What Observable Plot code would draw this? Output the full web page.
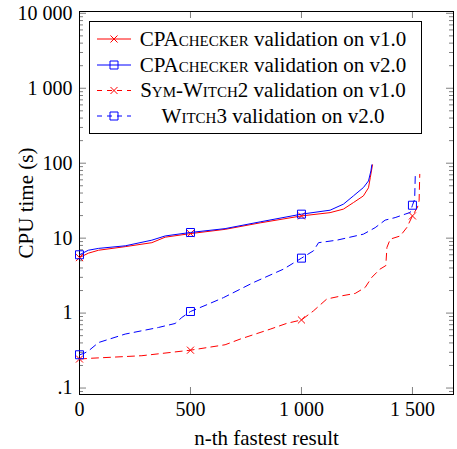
<!DOCTYPE html>
<html><head><meta charset="utf-8">
<script src="https://cdn.jsdelivr.net/npm/d3@7"></script>
<script src="https://cdn.jsdelivr.net/npm/@observablehq/plot@0.6"></script>
</head><body style="margin:0;background:#fff"><div id="chart"></div>
<script>
// ---- data ----
const cpa1X = [0, 40, 86, 206, 326, 386, 500, 656, 814, 1000, 1129, 1189, 1234, 1279, 1302, 1310, 1320];
const cpa1Y = [5.5, 6.3, 6.9, 7.7, 8.7, 10.3, 11.5, 13.1, 16.0, 19.8, 21.9, 24.4, 29.8, 36.6, 47, 64, 95];

const cpa2X = [0, 40, 86, 206, 326, 386, 500, 656, 814, 1000, 1129, 1189, 1234, 1279, 1302, 1313, 1317];
const cpa2Y = [6.0, 6.9, 7.3, 7.9, 9.4, 10.7, 11.9, 13.4, 16.5, 20.9, 23.6, 28.4, 36.6, 47.3, 58, 79, 95];

const sym2X = [0, 56, 281, 500, 656, 724, 859, 934, 1000, 1054, 1114, 1182, 1242, 1287, 1317, 1354, 1380, 1385, 1400, 1445, 1475, 1500, 1523, 1530, 1533];
const sym2Y = [0.244, 0.25, 0.27, 0.32, 0.378, 0.45, 0.61, 0.73, 0.81, 1.07, 1.54, 1.70, 1.83, 2.2, 3.0, 3.86, 4.3, 7.5, 9.7, 10.7, 13.9, 19.8, 26, 31.5, 71];

const witch3X = [0, 20, 41, 86, 206, 356, 431, 461, 500, 581, 649, 784, 919, 1000, 1054, 1077, 1160, 1279, 1332, 1377, 1422, 1467, 1490, 1500, 1510, 1513];
const witch3Y = [0.278, 0.29, 0.314, 0.405, 0.525, 0.643, 0.727, 0.874, 1.05, 1.32, 1.61, 2.56, 3.86, 5.41, 6.77, 8.7, 9.4, 11.3, 13.8, 17.4, 18.8, 20.9, 22, 27.5, 33, 73];

const xTicks = [0, 500, 1000, 1500];
const xTickLabels = ["0", "500", "1 000", "1 500"];
const yTicks = [0.1, 1, 10, 100, 1000, 10000];
const yTickLabels = [".1", "1", "10", "100", "1 000", "10 000"];
const xLabel = "n-th fastest result";
const yLabel = "CPU time (s)";
const legendTool = ["CPAchecker", "CPAchecker", "Sym-Witch2", "Witch3"];
const legendRest = [" validation on v1.0", " validation on v2.0", " validation on v1.0", " validation on v2.0"];

// ---- build ----
const rows = (xs, ys) => xs.map((x, i) => ({x, y: ys[i]}));
const cpa1 = rows(cpa1X, cpa1Y), cpa2 = rows(cpa2X, cpa2Y), sym2 = rows(sym2X, sym2Y), witch3 = rows(witch3X, witch3Y);
const markEvery = d => d.x % 500 === 0;

const W = 457, H = 449, mL = 79, mR = 4, mT = 11, mB = 55;
const pw = W - mL - mR, ph = H - mT - mB;
const yMin = 0.082, yMax = 10570;
const minorY = [];
for (let e = -2; e <= 3; e++) for (let m = 2; m <= 9; m++) {
  const v = +(m * Math.pow(10, e)).toPrecision(3);
  if (v > yMin && v < yMax) minorY.push(v);
}
const xLab = new Map(xTicks.map((t, i) => [t, xTickLabels[i]]));
const yLab = new Map(yTicks.map((t, i) => [t, yTickLabels[i]]));
const tickCol = "#808080";
const dash = "7,5";

const plot = Plot.plot({
  width: W, height: H,
  marginLeft: mL, marginRight: mR, marginTop: mT, marginBottom: mB,
  style: {fontFamily: "Liberation Serif", fontSize: "20px"},
  x: {domain: [0, 1685], label: null},
  y: {type: "log", domain: [yMin, yMax], label: null},
  marks: [
    Plot.tickY(minorY, {y: d => d, stroke: tickCol, insetRight: pw - 4}),
    Plot.tickY(minorY, {y: d => d, stroke: tickCol, insetLeft: pw - 4}),
    Plot.tickY(yTicks, {y: d => d, stroke: tickCol, insetRight: pw - 7}),
    Plot.tickY(yTicks, {y: d => d, stroke: tickCol, insetLeft: pw - 7}),
    Plot.tickX(xTicks, {x: d => d, stroke: tickCol, insetTop: ph - 7}),
    Plot.tickX(xTicks, {x: d => d, stroke: tickCol, insetBottom: ph - 7}),
    Plot.axisX(xTicks, {anchor: "bottom", tickSize: 0, tickPadding: 7, tickFormat: d => xLab.get(d), label: null}),
    Plot.axisY(yTicks, {anchor: "left", tickSize: 0, tickPadding: 7, tickFormat: d => yLab.get(d), label: null}),
    Plot.text([xLabel], {frameAnchor: "bottom", dy: 50, lineAnchor: "bottom", fontSize: 21}),
    Plot.text([yLabel], {frameAnchor: "left", dx: -53, rotate: -90, lineAnchor: "middle", textAnchor: "middle", fontSize: 21}),
    Plot.frame({stroke: "#000", strokeWidth: 1}),
    Plot.line(cpa1, {x: "x", y: "y", stroke: "#ff0000", strokeWidth: 1}),
    Plot.dot(cpa1.filter(markEvery), {x: "x", y: "y", symbol: "times", r: 3.3, stroke: "#ff0000", fill: "none", strokeWidth: 1}),
    Plot.line(cpa2, {x: "x", y: "y", stroke: "#0000ff", strokeWidth: 1}),
    Plot.dot(cpa2.filter(markEvery), {x: "x", y: "y", symbol: "square", r: 4.5, stroke: "#0000ff", fill: "none", strokeWidth: 1}),
    Plot.line(sym2, {x: "x", y: "y", stroke: "#ff0000", strokeWidth: 1, strokeDasharray: dash}),
    Plot.dot(sym2.filter(markEvery), {x: "x", y: "y", symbol: "times", r: 3.3, stroke: "#ff0000", fill: "none", strokeWidth: 1}),
    Plot.line(witch3, {x: "x", y: "y", stroke: "#0000ff", strokeWidth: 1, strokeDasharray: dash}),
    Plot.dot(witch3.filter(markEvery), {x: "x", y: "y", symbol: "square", r: 4.5, stroke: "#0000ff", fill: "none", strokeWidth: 1})
  ]
});
document.getElementById("chart").append(plot);

// ---- legend box (inside the plot, top) ----
const svg = d3.select(plot);
const lg = svg.append("g").attr("class", "legend");
lg.append("rect").attr("x", 89.5).attr("y", 21.5).attr("width", 332).attr("height", 112)
  .attr("fill", "#fff").attr("stroke", "#000").attr("stroke-width", 1);
const colors = ["#ff0000", "#0000ff", "#ff0000", "#0000ff"];
const dashed = [false, false, true, true];
const symb = ["times", "square", "times", "square"];
const rowY = [39, 65, 90.5, 116];
rowY.forEach((yy, i) => {
  const g = lg.append("g");
  g.append("line").attr("x1", 97).attr("x2", 131).attr("y1", yy).attr("y2", yy)
    .attr("stroke", colors[i]).attr("stroke-width", 1)
    .attr("stroke-dasharray", dashed[i] ? "5,5" : null);
  const s = symb[i] === "square" ? d3.symbol(d3.symbolSquare, 64) : d3.symbol(d3.symbolTimes, 34);
  g.append("path").attr("d", s()).attr("transform", `translate(114,${yy})`)
    .attr("fill", "none").attr("stroke", colors[i]).attr("stroke-width", 1);
  const t = g.append("text").attr("x", 273).attr("y", yy).attr("dy", "0.32em")
    .attr("text-anchor", "middle").attr("font-size", 21).attr("fill", "#000")
    .attr("font-family", "Liberation Serif");
  t.append("tspan").style("font-variant", "small-caps").text(legendTool[i]);
  t.append("tspan").text(legendRest[i]);
});
</script>
</body></html>
